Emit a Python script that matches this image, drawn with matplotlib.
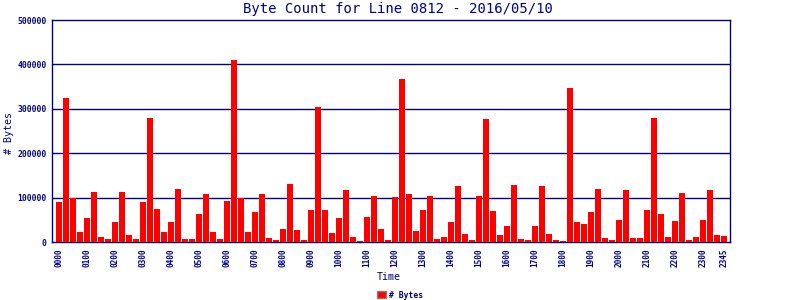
import numpy as np
import matplotlib
matplotlib.use("Agg")
import matplotlib.pyplot as plt
from matplotlib.patches import Patch

# 15-minute slots for the day
times = [f"{h:02d}{m:02d}" for h in range(24) for m in (0, 15, 30, 45)]

byte_counts = [
    89000, 325000, 100000, 23000,     # 00
    53000, 113000, 12000, 7500,       # 01
    44000, 113000, 16500, 7500,       # 02
    89000, 280000, 75000, 23000,      # 03
    46000, 120000, 7500, 7500,        # 04
    62000, 109000, 23000, 7500,       # 05
    93000, 411000, 98000, 23000,      # 06
    68000, 109000, 10000, 5300,       # 07
    30000, 131500, 28000, 5300,       # 08
    73000, 303000, 73000, 21000,      # 09
    55000, 116000, 12000, 3000,       # 10
    57000, 104500, 30000, 5300,       # 11
    102000, 366000, 109000, 25600,    # 12
    73000, 104500, 7500, 12000,       # 13
    46000, 127000, 19000, 5300,       # 14
    104500, 276000, 70700, 16500,     # 15
    37000, 129000, 7500, 5300,        # 16
    37000, 127000, 19000, 5300,       # 17
    3000, 346000, 46000, 41000,       # 18
    68000, 120000, 9800, 5300,        # 19
    50000, 118000, 9800, 9800,        # 20
    73000, 280000, 64000, 12000,      # 21
    48000, 111000, 5300, 12000,       # 22
    50000, 116000, 16500, 14300,      # 23
]

y_ticks = [0, 100000, 200000, 300000, 400000, 500000]

navy = "#000080"
red = "#ff0000"
mono = "DejaVu Sans Mono"

fig = plt.figure(figsize=(8, 3), dpi=100)
ax = fig.add_axes([52 / 800, 58 / 300, 678 / 800, 222 / 300])

x = np.arange(len(times))
ax.bar(x, byte_counts, width=0.9, align="edge", color=red, zorder=3)

for v in y_ticks[1:-1]:
    ax.axhline(v, color=navy, lw=1.0, zorder=2)

ax.set_xlim(-0.57, 96.29)
ax.set_ylim(0, 500000)

tick_idx = [i for i, t in enumerate(times) if t.endswith("00")] + [len(times) - 1]
ax.set_xticks(x[tick_idx] + 0.45)
ax.set_xticklabels([times[i] for i in tick_idx], rotation=90, fontsize=5.6,
                   fontweight="bold", family=mono, color=navy, va="top")
ax.set_yticks(y_ticks)
ax.set_yticklabels([str(v) for v in y_ticks], fontsize=5.8, fontweight="bold",
                   family=mono, color=navy)
ax.tick_params(axis="both", length=0)
ax.tick_params(axis="x", pad=5)
ax.tick_params(axis="y", pad=4)

for s in ax.spines.values():
    s.set_color(navy)
    s.set_linewidth(1.0)

fig.text(0.4975, 1 - 9 / 300, "Byte Count for Line 0812 - 2016/05/10",
         ha="center", va="center", fontsize=10, family=mono, color=navy)
fig.text(389 / 800, 1 - 277 / 300, "Time", ha="center", va="center",
         fontsize=7.2, family=mono, color=navy)
fig.text(9 / 800, 1 - 133 / 300, "# Bytes", ha="center", va="center",
         rotation=90, fontsize=7.2, family=mono, color=navy)

leg = fig.legend(handles=[Patch(facecolor=red, edgecolor="gray", lw=1.0, label="# Bytes")],
                 loc="center", bbox_to_anchor=(400 / 800, 1 - 295 / 300), frameon=False,
                 prop={"family": mono, "size": 5.8, "weight": "bold"},
                 handlelength=1.1, handleheight=0.9, handletextpad=0.4)
for t in leg.get_texts():
    t.set_color(navy)

fig.savefig("out.png", dpi=100)
